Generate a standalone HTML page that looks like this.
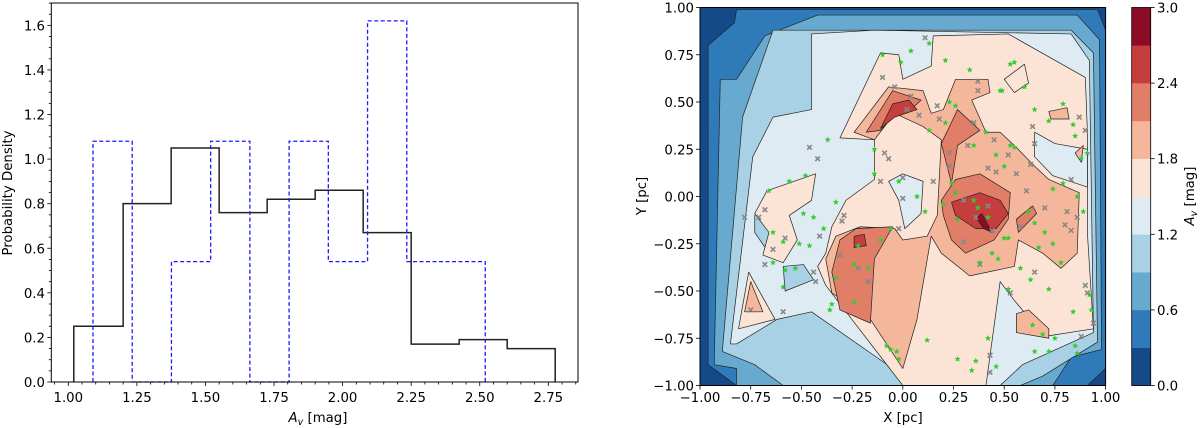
<!DOCTYPE html>
<html><head><meta charset="utf-8"><style>
html,body{margin:0;padding:0;background:#fff;}
svg{display:block;font-family:"DejaVu Sans","Liberation Sans",sans-serif;}
</style></head><body>
<svg id="fig" width="1200" height="428" viewBox="0 0 1200 428" xmlns="http://www.w3.org/2000/svg">
<g id="left"></g>
<g id="right"></g>
</svg>
<script>
// ---- Histogram data ----
const blackEdges = [1.02,1.20,1.375,1.55,1.725,1.90,2.075,2.25,2.425,2.60,2.775];
const blackValues = [0.25,0.80,1.05,0.76,0.82,0.86,0.67,0.17,0.19,0.15];
const blueEdges = [1.09,1.233,1.376,1.519,1.662,1.805,1.948,2.091,2.234,2.377,2.52];
const blueValues = [1.08,0,0.54,1.08,0,1.08,0.54,1.62,0.54,0.54];
const histXTicks = [1.00,1.25,1.50,1.75,2.00,2.25,2.50,2.75];
const histYTicks = [0.0,0.2,0.4,0.6,0.8,1.0,1.2,1.4,1.6];

// ---- Contour map data (pc units) ----
const cbLevels = [0.0,0.3,0.6,0.9,1.2,1.5,1.8,2.1,2.4,2.7,3.0];
const cbTickLabels = ["0.0","0.6","1.2","1.8","2.4","3.0"];
const mapTicks = [-1.00,-0.75,-0.50,-0.25,0.00,0.25,0.50,0.75,1.00];
const levelColors = ["#144a87","#2f7ab9","#68a9d0","#a9d1e5","#deebf2","#fbe3d6","#f5b79b","#e07e67","#c53e3d","#8a0c26"];
const contourLevel = [1,2,3,4, 3,3, 5,4,4, 5,5,5, 6,6,6,6,6, 7,7,7,7,7, 8,8,8, 9];
const contourPolys = [
 [[-0.82,0.99],[0.96,0.99],[1.0,0.88],[1.0,-0.91],[0.91,-1.0],[-0.82,-1.0],[-0.96,-0.89],[-0.96,0.80],[-0.83,0.92]],
 [[-0.93,-0.89],[-0.90,0.62],[-0.82,0.62],[-0.68,0.85],[-0.42,0.96],[0.86,0.96],[0.97,0.83],[0.98,-0.81],[0.83,-0.85],[0.74,-1.0],[-0.82,-1.0],[-0.82,-0.91]],
 [[-0.89,-0.82],[-0.79,0.42],[-0.64,0.88],[0.83,0.88],[0.94,0.76],[0.96,-0.77],[0.69,-0.95],[0.58,-1.0],[-0.59,-1.0],[-0.73,-0.89]],
 [[-0.85,-0.78],[-0.74,0.21],[-0.64,0.42],[-0.45,0.46],[-0.45,0.86],[-0.14,0.88],[0.83,0.86],[0.92,0.72],[0.94,-0.72],[0.59,-0.89],[0.48,-1.0],[0.07,-1.0],[-0.45,-0.61],[-0.62,-0.65],[-0.82,-0.78]],
 [[-0.73,-0.10],[-0.67,-0.03],[-0.63,-0.09],[-0.66,-0.30],[-0.73,-0.19]],
 [[-0.59,-0.37],[-0.49,-0.36],[-0.44,-0.44],[-0.58,-0.50]],
 [[-0.31,0.31],[-0.11,0.76],[-0.02,0.75],[0.0,0.62],[0.14,0.69],[0.15,0.85],[0.52,0.86],[0.90,0.63],[0.91,0.35],[0.91,-0.19],[0.94,-0.70],[0.70,-0.74],[0.55,-0.55],[0.48,-0.45],[0.41,-1.0],[0.0,-1.0],[-0.28,-0.61],[-0.38,-0.47],[-0.42,-0.37],[-0.38,-0.30],[-0.35,-0.16],[-0.28,-0.02],[-0.14,0.09],[-0.14,0.30]],
 [[-0.07,0.08],[0.0,0.12],[0.10,0.08],[0.09,-0.09],[0.01,-0.17],[-0.02,-0.02]],
 [[0.65,0.34],[0.75,0.28],[0.91,0.25],[0.91,0.05],[0.74,0.11],[0.65,0.21]],
 [[-0.67,0.03],[-0.43,0.12],[-0.45,-0.02],[-0.56,-0.10],[-0.52,-0.23],[-0.59,-0.35],[-0.69,-0.31],[-0.66,-0.19],[-0.73,-0.09]],
 [[-0.81,-0.70],[-0.76,-0.40],[-0.63,-0.65]],
 [[0.50,0.62],[0.60,0.70],[0.62,0.60],[0.55,0.55]],
 [[-0.24,0.34],[-0.07,0.58],[0.10,0.56],[0.14,0.44],[0.20,0.46],[0.26,0.62],[0.42,0.62],[0.43,0.55],[0.34,0.51],[0.41,0.34],[0.48,0.34],[0.55,0.27],[0.65,0.16],[0.72,0.09],[0.87,0.02],[0.86,-0.30],[0.78,-0.38],[0.69,-0.30],[0.57,-0.23],[0.55,-0.37],[0.33,-0.42],[0.19,-0.30],[0.14,-0.21],[0.07,-0.65],[0.0,-0.91],[-0.16,-0.65],[-0.35,-0.51],[-0.38,-0.33],[-0.33,-0.21],[-0.21,-0.16],[-0.04,-0.17],[0.0,-0.23],[0.12,-0.21],[0.17,-0.10],[0.19,0.30],[0.10,0.37],[-0.04,0.44],[-0.14,0.30]],
 [[0.72,0.45],[0.81,0.47],[0.82,0.41],[0.73,0.41]],
 [[0.56,-0.62],[0.62,-0.60],[0.72,-0.70],[0.72,-0.75],[0.56,-0.72]],
 [[0.85,0.23],[0.89,0.27],[0.88,0.18]],
 [[-0.78,-0.61],[-0.75,-0.45],[-0.69,-0.61]],
 [[-0.18,0.34],[-0.05,0.56],[0.09,0.51],[0.04,0.46],[-0.04,0.44],[-0.11,0.35]],
 [[0.19,-0.02],[0.26,0.09],[0.38,0.12],[0.53,0.02],[0.52,-0.12],[0.45,-0.23],[0.31,-0.30],[0.24,-0.23],[0.20,-0.10]],
 [[0.19,0.28],[0.27,0.46],[0.38,0.35],[0.27,0.27],[0.24,0.07]],
 [[-0.31,-0.23],[-0.23,-0.17],[-0.05,-0.16],[-0.14,-0.33],[-0.16,-0.67],[-0.31,-0.60],[-0.35,-0.40]],
 [[0.56,-0.12],[0.64,-0.05],[0.66,-0.09],[0.57,-0.19]],
 [[-0.11,0.36],[-0.05,0.49],[0.03,0.51],[0.07,0.46],[-0.04,0.42]],
 [[0.24,-0.03],[0.38,0.02],[0.48,-0.02],[0.52,-0.09],[0.46,-0.17],[0.36,-0.17],[0.26,-0.10]],
 [[-0.24,-0.21],[-0.19,-0.20],[-0.18,-0.26],[-0.24,-0.27]],
 [[0.36,-0.11],[0.39,-0.09],[0.44,-0.19],[0.40,-0.17]]
];
const starX = [-0.10,-0.01,0.04,0.13,0.21,0.53,0.55,0.33,0.60,0.48,0.23,0.26,0.65,0.79,0.72,0.84,0.85,0.91,0.88,0.41,0.35,0.46,0.50,0.53,0.55,0.21,0.13,-0.14,-0.37,-0.48,-0.56,-0.66,-0.14,-0.02,0.07,0.11,0.20,0.24,0.26,-0.33,-0.49,-0.44,-0.39,-0.64,-0.59,-0.51,-0.46,-0.53,-0.58,-0.64,-0.59,-0.35,-0.36,-0.24,-0.22,-0.11,-0.06,-0.17,-0.24,-0.33,-0.08,-0.06,-0.03,-0.02,0.12,0.27,0.34,0.36,0.46,0.42,0.38,0.44,0.47,0.52,0.58,0.63,0.52,0.72,0.84,0.92,0.93,0.64,0.69,0.75,0.65,0.72,0.86,0.85,0.67,0.74,0.78,0.74,0.79,0.89,0.86,0.50,0.42,0.37,0.35,0.27,0.62,0.65,0.70,0.49];
const starY = [0.75,0.71,0.77,0.81,0.72,0.70,0.71,0.67,0.58,0.56,0.50,0.48,0.46,0.49,0.40,0.38,0.32,0.23,0.20,0.34,0.27,0.22,0.16,0.27,0.26,0.39,0.35,0.25,0.30,0.11,0.08,0.03,0.12,0.08,0.00,-0.08,-0.04,0.07,0.02,-0.03,-0.09,-0.11,-0.17,-0.19,-0.24,-0.25,-0.26,-0.38,-0.39,-0.35,-0.48,-0.57,-0.60,-0.56,-0.26,-0.23,-0.17,-0.38,-0.36,-0.43,-0.79,-0.81,-0.82,-0.86,-0.76,-0.86,-0.92,-0.87,-0.90,-0.75,-0.35,-0.30,-0.33,-0.22,-0.38,-0.44,-0.49,-0.49,-0.61,-0.52,-0.60,-0.68,-0.73,-0.75,-0.82,-0.82,-0.83,-0.79,-0.27,-0.25,-0.35,0.04,0.07,-0.08,0.00,-0.22,-0.11,-0.06,-0.02,-0.12,-0.08,-0.14,-0.19,0.56];
const crossX = [0.11,-0.10,-0.04,0.04,0.02,0.08,0.17,0.18,0.37,0.37,0.35,0.64,0.65,0.87,0.90,0.23,0.23,0.32,0.45,0.42,0.46,0.52,0.63,0.56,0.61,0.83,0.81,0.86,0.80,0.83,0.70,0.58,0.65,0.90,0.91,0.94,0.88,0.30,0.42,0.36,0.44,0.30,0.38,0.15,0.00,-0.11,0.00,-0.02,-0.09,-0.07,-0.46,-0.42,-0.29,-0.30,-0.41,-0.68,-0.78,-0.71,-0.64,-0.58,-0.68,-0.44,-0.43,-0.22,-0.17,-0.31,-0.59,-0.75,0.53,0.43,0.43];
const crossY = [0.84,0.63,0.58,0.53,0.46,0.43,0.48,0.41,0.61,0.56,0.39,0.37,0.28,0.42,0.35,0.23,0.16,0.27,0.30,0.15,0.13,0.22,0.17,0.12,0.03,0.09,-0.08,-0.11,-0.15,-0.18,-0.06,-0.16,-0.40,-0.47,-0.51,-0.67,-0.74,-0.02,-0.05,-0.11,-0.18,-0.24,-0.36,0.08,0.10,0.08,-0.01,-0.17,0.23,0.20,0.26,0.20,-0.10,-0.13,-0.21,-0.07,-0.11,-0.11,-0.28,-0.22,-0.36,-0.40,-0.45,-0.38,-0.45,-0.31,-0.61,-0.60,-0.51,-0.84,-0.93];

const NS="http://www.w3.org/2000/svg";
function mk(tag, attrs, parent){const e=document.createElementNS(NS,tag);for(const k in attrs)e.setAttribute(k,attrs[k]);parent.appendChild(e);return e;}
const FS=13.3;

// ---------- LEFT ----------
const L=document.getElementById('left');
const hx0=51.3, hx1=578, hy0=3, hy1=382;
const hx=v=>68.3+(v-1.0)*274.3;
const hy=v=>382-v*222.9;
function stepPath(edges, vals){
  let d='M'+hx(edges[0])+','+hy(0);
  for(let i=0;i<vals.length;i++){d+=' L'+hx(edges[i])+','+hy(vals[i])+' L'+hx(edges[i+1])+','+hy(vals[i]);}
  d+=' L'+hx(edges[edges.length-1])+','+hy(0);
  return d;
}
let p=mk('path',{d:stepPath(blackEdges,blackValues),fill:'none',stroke:'#222',"stroke-width":1.5},L);


p=mk('path',{d:stepPath(blueEdges,blueValues),fill:'none',stroke:'#1a1aff',"stroke-width":1.3,"stroke-dasharray":"4,2.5"},L);


let fr=mk('rect',{x:hx0,y:hy0,width:hx1-hx0,height:hy1-hy0,fill:'none',stroke:'#000',"stroke-width":1},L);


for(let v=0.95;v<=2.86;v+=0.05){const x=hx(v);const maj=Math.abs((v*4)-Math.round(v*4))<1e-6;mk('line',{x1:x,x2:x,y1:hy1,y2:hy1+(maj?4:2.5),stroke:'#000',"stroke-width":0.8},L);}
for(let v=0;v<=1.7001;v+=0.05){const y=hy(v);const maj=Math.abs(v*5-Math.round(v*5))<1e-6;mk('line',{x1:hx0,x2:hx0-(maj?4:2.5),y1:y,y2:y,stroke:'#000',"stroke-width":0.8},L);}
histXTicks.forEach(v=>{const t=mk('text',{x:hx(v),y:402,"font-size":FS,"text-anchor":"middle",fill:'#000'},L);t.textContent=v.toFixed(2);

});
histYTicks.forEach(v=>{const t=mk('text',{x:45,y:hy(v)+5,"font-size":FS,"text-anchor":"end",fill:'#000'},L);t.textContent=v.toFixed(1);

});
let t=mk('text',{x:318,y:422,"font-size":FS,"text-anchor":"middle"},L);
t.innerHTML='<tspan font-style="italic">A</tspan><tspan font-style="italic" font-size="9.5" dy="3">v</tspan><tspan dy="-3"> [mag]</tspan>';


t=mk('text',{x:0,y:0,"font-size":FS,"text-anchor":"middle",transform:'translate(12,193) rotate(-90)'},L);
t.textContent='Probability Density';



// ---------- RIGHT ----------
const R=document.getElementById('right');
const mx=v=>700+(v+1)*202.8;
const my=v=>196.5-v*189;
const mx0=700,mx1=1105.6,my0=7.5,my1=385.5;
let bg=mk('rect',{x:mx0,y:my0,width:mx1-mx0,height:my1-my0,fill:levelColors[0]},R);


const cg=mk('g',{"clip-path":"url(#mapclip)"},R);
const defs=mk('defs',{},R);const cp=mk('clipPath',{id:'mapclip'},defs);mk('rect',{x:mx0,y:my0,width:mx1-mx0,height:my1-my0},cp);
contourPolys.forEach((poly,i)=>{
  const pts=poly.map(q=>mx(q[0])+','+my(q[1])).join(' ');
  const e=mk('polygon',{points:pts,fill:levelColors[contourLevel[i]],stroke:'#222',"stroke-width":0.7,"stroke-linejoin":"round"},cg);
  
  
});
function starPath(cx,cy,r){let d='';for(let k=0;k<10;k++){const a=-Math.PI/2+k*Math.PI/5;const rr=k%2?r*0.45:r;d+=(k?'L':'M')+(cx+rr*Math.cos(a)).toFixed(2)+','+(cy+rr*Math.sin(a)).toFixed(2);}return d+'Z';}
crossX.forEach((v,i)=>{const cx=mx(v),cy=my(crossY[i]);
  const e=mk('path',{d:`M${cx-2.3},${cy-2.3}L${cx+2.3},${cy+2.3}M${cx-2.3},${cy+2.3}L${cx+2.3},${cy-2.3}`,stroke:'#888',"stroke-width":1.6},cg);
  
  });
starX.forEach((v,i)=>{
  const e=mk('path',{d:starPath(mx(v),my(starY[i]),3.2),fill:'#3c3'},cg);
  
  });
fr=mk('rect',{x:mx0,y:my0,width:mx1-mx0,height:my1-my0,fill:'none',stroke:'#000',"stroke-width":1},R);


mapTicks.forEach(v=>{
  mk('line',{x1:mx(v),x2:mx(v),y1:my1,y2:my1+4,stroke:'#000',"stroke-width":0.8},R);
  mk('line',{x1:mx0,x2:mx0-4,y1:my(v),y2:my(v),stroke:'#000',"stroke-width":0.8},R);
  const lbl=(v<0?'\u2212':'')+Math.abs(v).toFixed(2);
  let a=mk('text',{x:mx(v),y:402,"font-size":FS,"text-anchor":"middle"},R);a.textContent=lbl;
  
  
  a=mk('text',{x:694,y:my(v)+5,"font-size":FS,"text-anchor":"end"},R);a.textContent=lbl;
  
  
});
t=mk('text',{x:903,y:422,"font-size":FS,"text-anchor":"middle"},R);t.textContent='X [pc]';


t=mk('text',{x:0,y:0,"font-size":FS,"text-anchor":"middle",transform:'translate(646,196) rotate(-90)'},R);t.textContent='Y [pc]';


// colorbar
const cbx0=1131.7,cbx1=1150.7;
const cy=v=>385.5-v/3*378;
for(let i=0;i<levelColors.length;i++){
  const e=mk('rect',{x:cbx0,y:cy(cbLevels[i+1]),width:cbx1-cbx0,height:cy(cbLevels[i])-cy(cbLevels[i+1])+0.3,fill:levelColors[i]},R);
  
  
}
fr=mk('rect',{x:cbx0,y:cy(3),width:cbx1-cbx0,height:cy(0)-cy(3),fill:'none',stroke:'#000',"stroke-width":0.8},R);


cbTickLabels.forEach(s=>{const v=parseFloat(s);
  mk('line',{x1:cbx1,x2:cbx1+4,y1:cy(v),y2:cy(v),stroke:'#000',"stroke-width":0.8},R);
  const a=mk('text',{x:1157,y:cy(v)+5,"font-size":FS},R);a.textContent=s;
  
  });
t=mk('text',{x:0,y:0,"font-size":FS,"text-anchor":"middle",transform:'translate(1194,196) rotate(-90)'},R);
t.innerHTML='<tspan font-style="italic">A</tspan><tspan font-style="italic" font-size="9.5" dy="3">v</tspan><tspan dy="-3"> [mag]</tspan>';


</script>
</body></html>
